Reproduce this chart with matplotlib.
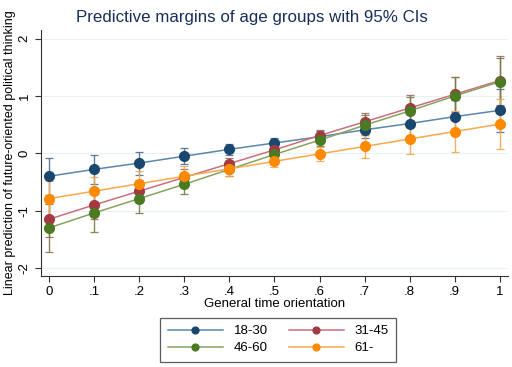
import numpy as np
import matplotlib.pyplot as plt

plt.rcParams['font.family'] = ['Liberation Sans', 'DejaVu Sans']
plt.rcParams['axes.unicode_minus'] = False

## data
timeOrient = [0, .1, .2, .3, .4, .5, .6, .7, .8, .9, 1]
tickLabels = ['0', '.1', '.2', '.3', '.4', '.5', '.6', '.7', '.8', '.9', '1']

groupNames = ['18-30', '31-45', '46-60', '61-']

pred1830 = [-0.40, -0.28, -0.17, -0.05, 0.07, 0.18, 0.29, 0.41, 0.52, 0.64, 0.75]
ci1830 = [0.32, 0.25, 0.20, 0.14, 0.10, 0.09, 0.10, 0.14, 0.22, 0.29, 0.37]

pred3145 = [-1.15, -0.90, -0.66, -0.42, -0.18, 0.06, 0.31, 0.55, 0.79, 1.03, 1.27]
ci3145 = [0.31, 0.25, 0.19, 0.14, 0.09, 0.08, 0.10, 0.16, 0.23, 0.31, 0.42]

pred4660 = [-1.30, -1.04, -0.79, -0.54, -0.28, -0.02, 0.23, 0.49, 0.74, 1.00, 1.25]
ci4660 = [0.42, 0.34, 0.25, 0.17, 0.11, 0.09, 0.11, 0.17, 0.25, 0.33, 0.42]

pred61 = [-0.79, -0.66, -0.53, -0.40, -0.27, -0.14, -0.01, 0.12, 0.25, 0.38, 0.51]
ci61 = [0.30, 0.24, 0.23, 0.18, 0.12, 0.09, 0.12, 0.20, 0.27, 0.35, 0.43]

preds = [pred1830, pred3145, pred4660, pred61]
cis = [ci1830, ci3145, ci4660, ci61]

markerColors = ['#1a476f', '#a33a42', '#4a7a22', '#ff8a00']
lineColors = ['#5b86ad', '#c9707a', '#87a35e', '#f6a94f']
barColors = ['#4f6f8c', '#9a6a60', '#7b7a45', '#f0a850']

## plot
fig = plt.figure(figsize=(5.12, 3.67), dpi=100)
ax = fig.add_axes([0.08, 0.248, 0.912, 0.67])

handles = []
for p, c, mc, lc, bc, name in zip(preds, cis, markerColors, lineColors, barColors, groupNames):
    ax.errorbar(timeOrient, p, yerr=c, fmt='none', ecolor=bc, elinewidth=1.0,
                capsize=3, capthick=0.9, alpha=0.9, zorder=2)
    h, = ax.plot(timeOrient, p, color=lc, lw=1.1, marker='o', markersize=7,
                 markerfacecolor=mc, markeredgecolor=mc, label=name, zorder=3)
    handles.append(h)

ax.set_xlim(-0.018, 1.018)
ax.set_ylim(-2.14, 2.15)
ax.set_xticks(timeOrient, tickLabels)
ax.set_yticks([-2, -1, 0, 1, 2])
ax.tick_params(axis='both', labelsize=9.5, color='#333333', direction='out', length=4)
for lbl in ax.get_yticklabels():
    lbl.set_rotation(90)
    lbl.set_va('center')

ax.grid(axis='y', color='#eaf0f3', lw=0.8)
ax.set_axisbelow(True)
for s in ['top', 'right']:
    ax.spines[s].set_visible(False)
for s in ['left', 'bottom']:
    ax.spines[s].set_color('#333333')

ax.set_xlabel('General time orientation', fontsize=9.5, labelpad=0)
ax.set_ylabel('Linear prediction of future-oriented political thinking', fontsize=9, labelpad=2)
fig.text(0.493, 0.953, 'Predictive margins of age groups with 95% CIs', ha='center', va='center',
         fontsize=12.2, color='#1a2e5a')

# legend is filled column-wise, so reorder to get 18-30 / 31-45 on the first row
legOrder = [0, 2, 1, 3]
leg = ax.legend([handles[i] for i in legOrder], [groupNames[i] for i in legOrder],
                loc='lower center', bbox_to_anchor=(0.508, -0.375), ncol=2, fontsize=9.5,
                frameon=True, fancybox=False, edgecolor='#333333', columnspacing=1.6,
                handlelength=4.2, handletextpad=0.8, borderpad=0.55, labelspacing=0.35,
                markerscale=0.7)
leg.get_frame().set_linewidth(0.9)

fig.savefig('out.png', dpi=100, facecolor='white')
